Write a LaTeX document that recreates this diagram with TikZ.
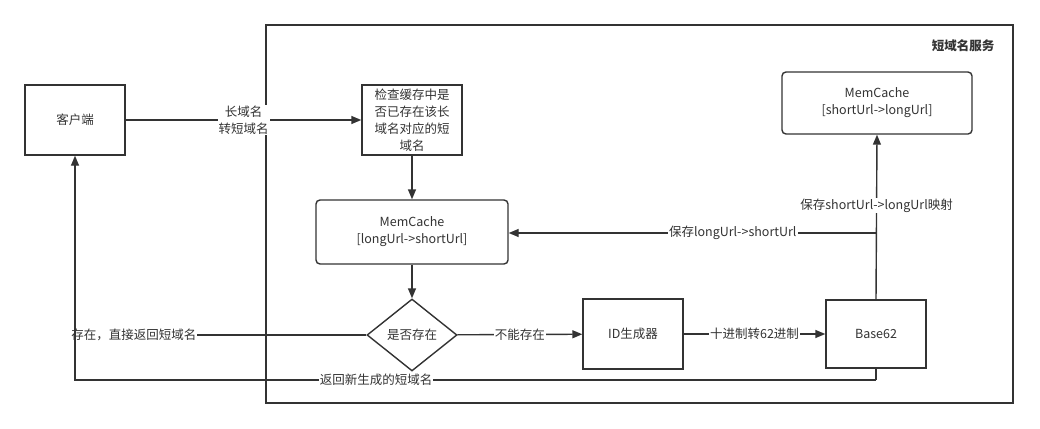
\documentclass[tikz,border=0pt]{standalone}
\usepackage{fontspec}
\setmainfont{Noto Sans CJK SC}
\usetikzlibrary{arrows.meta,shapes.geometric}
\definecolor{ink}{HTML}{333333}
\begin{document}
\begin{tikzpicture}[x=1pt,y=-1pt,
  font=\fontsize{12.5}{17}\selectfont, text=ink,
  line/.style={draw=ink, line width=1.4pt},
  arr/.style={line, -{Triangle[length=10pt,width=8pt]}},
  box/.style={draw=ink, line width=1.4pt, minimum width=100pt, minimum height=70pt, align=center, inner sep=0pt},
  rbox/.style={box, rounded corners=4pt},
  lbl/.style={fill=white, inner sep=1pt, align=center}]
\useasboundingbox (0,0) rectangle (1040,428);
\node[draw=ink, line width=1.4pt, minimum width=747pt, minimum height=378pt, inner sep=0pt] (svc) at (639.5,214) {};
\node[font=\fontsize{12.5}{17}\selectfont\bfseries, anchor=east] (title) at (998,46) {短域名服务};

\node[box] (client) at (75,120) {客户端};
\node[box] (check) at (412,120) {检查缓存中是\\否已存在该长\\域名对应的短\\域名};
\node[rbox, minimum width=192pt, minimum height=64pt] (mc1) at (412,232) {MemCache\\{[longUrl->shortUrl]}};
\node[draw=ink, line width=1.4pt, shape=diamond, aspect=1.25, minimum width=90pt, minimum height=72pt, inner sep=0pt] (dia) at (412,335) {是否存在};
\node[box] (id) at (633,334) {ID生成器};
\node[box, minimum height=68pt] (base) at (876,334) {Base62};
\node[rbox, minimum width=190pt, minimum height=62pt] (mc2) at (877,103) {MemCache\\{[shortUrl->longUrl]}};

\draw[arr] (client) -- node[lbl]{长域名\\转短域名} (check);
\draw[arr] (check) -- (mc1);
\draw[arr] (mc1) -- (dia);
\draw[arr] (dia) -- node[lbl]{不能存在} (id);
\draw[arr] (id) -- node[lbl]{十进制转62进制} (base);
\draw[arr] (base.north) -- node[lbl, pos=0.57]{保存shortUrl->longUrl映射} (mc2.south);
\coordinate (j) at (876,233);
\draw[arr] (j) -- node[lbl, pos=0.39]{保存longUrl->shortUrl} (j -| mc1.east);

\coordinate (e1) at (197,335);
\draw[line] (dia.west) -- (e1) node[lbl, anchor=east, inner sep=0pt]{存在，直接返回短域名};

\coordinate (r1) at (876,380);
\coordinate (r2) at (75,380);
\draw[line] (base.south) -- (r1);
\draw[arr] (r1) -- node[lbl, pos=0.624]{返回新生成的短域名} (r2) -- (client.south);
\end{tikzpicture}
\end{document}
